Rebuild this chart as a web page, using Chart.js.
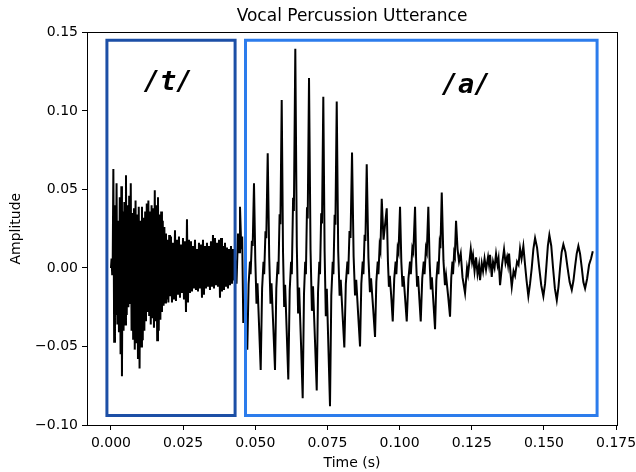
<!DOCTYPE html>
<html>
<head>
<meta charset="utf-8">
<title>Vocal Percussion Utterance</title>
<script src="https://cdn.jsdelivr.net/npm/chart.js@4.4.0/dist/chart.umd.min.js"></script>
<style>
  html, body { margin: 0; padding: 0; background: #fff; }
  canvas { display: block; }
</style>
</head>
<body>
<canvas id="chart" width="636" height="472"></canvas>
<script>
// [time (s), amplitude], /t/ burst first
const burstSamples = [
  [0.00000, 0.000], [0.00021, 0.006], [0.00042, -0.004], [0.00062, 0.008], [0.00083, 0.063], [0.00111, -0.047], [0.00139, 0.040], [0.00166, -0.030], [0.00194, 0.054], [0.00222, -0.036],
  [0.00249, 0.030], [0.00277, -0.041], [0.00305, 0.045], [0.00333, -0.055], [0.00360, 0.052], [0.00381, -0.069], [0.00409, 0.036], [0.00437, -0.040], [0.00464, 0.042], [0.00492, -0.036],
  [0.00520, 0.059], [0.00547, -0.030], [0.00575, 0.040], [0.00603, -0.025], [0.00631, 0.046], [0.00658, -0.023], [0.00686, 0.054], [0.00714, -0.040], [0.00742, 0.035], [0.00769, -0.045],
  [0.00797, 0.038], [0.00825, -0.052], [0.00852, 0.043], [0.00880, -0.048], [0.00908, 0.034], [0.00936, -0.058], [0.00963, 0.039], [0.00991, -0.064], [0.01019, 0.030], [0.01046, -0.050],
  [0.01074, 0.039], [0.01102, -0.046], [0.01130, 0.032], [0.01157, -0.040], [0.01185, 0.036], [0.01213, -0.034], [0.01240, 0.041], [0.01268, -0.028], [0.01296, 0.043], [0.01324, -0.030],
  [0.01351, 0.036], [0.01379, -0.036], [0.01407, 0.040], [0.01435, -0.032], [0.01462, 0.038], [0.01490, -0.038], [0.01518, 0.0495], [0.01545, -0.034], [0.01573, 0.040], [0.01601, -0.046],
  [0.01629, 0.045], [0.01656, -0.040], [0.01684, 0.034], [0.01712, -0.033], [0.01739, 0.036], [0.01767, -0.028], [0.01795, 0.030], [0.01823, -0.024], [0.01850, 0.026], [0.01878, -0.022],
  [0.01906, 0.022], [0.01933, -0.020], [0.01961, 0.018], [0.01989, -0.022], [0.02017, 0.021], [0.02044, -0.018], [0.02079, 0.020], [0.02114, -0.022], [0.02148, 0.016], [0.02183, -0.020],
  [0.02218, 0.024], [0.02252, -0.021], [0.02287, 0.018], [0.02322, -0.017], [0.02356, 0.020], [0.02391, -0.019], [0.02426, 0.015], [0.02460, -0.016], [0.02495, 0.019], [0.02529, -0.020],
  [0.02564, 0.017], [0.02599, -0.028], [0.02633, 0.031], [0.02668, -0.022], [0.02703, 0.018], [0.02737, -0.016], [0.02772, 0.017], [0.02807, -0.015], [0.02841, 0.014], [0.02876, -0.013],
  [0.02911, 0.018], [0.02945, -0.014], [0.02980, 0.012], [0.03015, -0.015], [0.03049, 0.016], [0.03084, -0.013], [0.03119, 0.015], [0.03153, -0.019], [0.03188, 0.018], [0.03222, -0.017],
  [0.03257, 0.014], [0.03292, -0.013], [0.03326, 0.016], [0.03361, -0.012], [0.03396, 0.014], [0.03430, -0.014], [0.03465, 0.017], [0.03500, -0.012], [0.03534, 0.021], [0.03569, -0.013],
  [0.03604, 0.019], [0.03638, -0.011], [0.03673, 0.016], [0.03708, -0.012], [0.03742, 0.018], [0.03777, -0.019], [0.03812, 0.019], [0.03846, -0.015], [0.03881, 0.014], [0.03915, -0.014],
  [0.03950, 0.016], [0.03985, -0.012], [0.04019, 0.013], [0.04054, -0.013], [0.04089, 0.012], [0.04123, -0.011], [0.04158, 0.014], [0.04193, -0.010], [0.04227, 0.012], [0.04262, -0.008]
];

// /a/ vowel, roughly one glottal cycle per row
const vowelSamples = [
  [0.04297, 0.006], [0.04349, -0.010], [0.04401, 0.022], [0.04442, 0.010], [0.04470, 0.039], [0.04515, 0.012], [0.04546, 0.020], [0.04584, -0.035], [0.04626, -0.020], [0.04660, -0.036], [0.04723, -0.052],
  [0.04768, -0.0104], [0.04816, 0.004], [0.04837, -0.004], [0.04882, 0.0173], [0.04910, 0.0140], [0.04955, 0.054], [0.05000, 0.0054], [0.05042, -0.0228], [0.05076, -0.0098], [0.05135, -0.039], [0.05187, -0.065],
  [0.05236, -0.013], [0.05284, 0.004], [0.05308, -0.004], [0.05353, 0.0234], [0.05381, 0.019], [0.05430, 0.073], [0.05482, 0.0073], [0.05527, -0.0228], [0.05561, -0.0098], [0.05627, -0.039], [0.05683, -0.065],
  [0.05728, -0.013], [0.05776, 0.004], [0.05800, -0.004], [0.05842, 0.0342], [0.05870, 0.0278], [0.05915, 0.107], [0.05960, 0.0107], [0.06001, -0.0249], [0.06033, -0.0107], [0.06092, -0.0426], [0.06143, -0.071],
  [0.06192, -0.0142], [0.06240, 0.004], [0.06265, -0.004], [0.06310, 0.0447], [0.06337, 0.0363], [0.06386, 0.1396], [0.06438, 0.014], [0.06483, -0.029], [0.06518, -0.0125], [0.06587, -0.050], [0.06642, -0.083],
  [0.06687, -0.0166], [0.06729, 0.004], [0.06753, -0.004], [0.06791, 0.0387], [0.06816, 0.0315], [0.06861, 0.121], [0.06913, 0.0121], [0.06961, -0.0273], [0.06999, -0.0117], [0.07069, -0.0468], [0.07128, -0.078],
  [0.07173, -0.0156], [0.07218, 0.004], [0.07242, -0.004], [0.07283, 0.0349], [0.07311, 0.0283], [0.07356, 0.109], [0.07401, 0.0109], [0.07443, -0.0308], [0.07477, -0.0132], [0.07536, -0.0528], [0.07588, -0.088],
  [0.07633, -0.0176], [0.07682, 0.004], [0.07706, -0.004], [0.07748, 0.0339], [0.07775, 0.0276], [0.07821, 0.106], [0.07872, 0.0106], [0.07921, -0.0177], [0.07959, -0.0076], [0.08025, -0.0304], [0.08084, -0.0506],
  [0.08136, -0.0101], [0.08191, 0.004], [0.08219, -0.004], [0.08264, 0.0235], [0.08299, 0.0191], [0.08351, 0.0735], [0.08406, 0.0074], [0.08455, -0.0175], [0.08496, -0.0075], [0.08565, -0.030], [0.08628, -0.050],
  [0.08673, -0.010], [0.08721, 0.004], [0.08746, -0.004], [0.08787, 0.0211], [0.08815, 0.0172], [0.08860, 0.066], [0.08919, 0.0066], [0.08971, -0.0154], [0.09009, -0.0066], [0.09085, -0.0264], [0.09148, -0.044],
  [0.09193, -0.0088], [0.09241, 0.004], [0.09265, -0.004], [0.09307, 0.0141], [0.09335, 0.0114], [0.09380, 0.044], [0.09442, 0.018], [0.09553, 0.038],
  [0.09595, 0.004], [0.09629, -0.012], [0.09660, -0.005], [0.09716, -0.020], [0.09761, -0.034],
  [0.09813, -0.0068], [0.09861, 0.004], [0.09886, -0.004], [0.09931, 0.0125], [0.09962, 0.0101], [0.10014, 0.039], [0.10059, 0.0039], [0.10100, -0.0119], [0.10135, -0.0051], [0.10194, -0.0204], [0.10246, -0.034],
  [0.10305, -0.0068], [0.10360, 0.004], [0.10388, -0.004], [0.10440, 0.0125], [0.10475, 0.0101], [0.10534, 0.039], [0.10572, 0.0039], [0.10606, -0.0119], [0.10638, -0.0051], [0.10686, -0.0204], [0.10731, -0.034],
  [0.10783, -0.0068], [0.10835, 0.004], [0.10863, -0.004], [0.10911, 0.0125], [0.10942, 0.0101], [0.10994, 0.039], [0.11039, 0.0039], [0.11081, -0.0137], [0.11116, -0.0059], [0.11175, -0.0234], [0.11227, -0.039],
  [0.11272, -0.0078], [0.11320, 0.004], [0.11344, -0.004], [0.11386, 0.0154], [0.11414, 0.0125], [0.11459, 0.048], [0.11518, 0.0048], [0.11570, -0.0109], [0.11608, -0.0047], [0.11684, -0.0186], [0.11746, -0.031],
  [0.11788, -0.0062], [0.11830, 0.004], [0.11850, -0.004], [0.11888, 0.0096], [0.11913, 0.0078], [0.11954, 0.030], [0.12006, 0.012], [0.12058, 0.004], [0.12117, 0.0092], [0.12179, -0.006], [0.12266, -0.016],
  [0.12335, 0.000], [0.12370, -0.004], [0.12464, 0.012], [0.12509, 0.004], [0.12543, 0.008], [0.12595, -0.002], [0.12647, 0.0067], [0.12699, -0.004], [0.12751, 0.002], [0.12786, -0.0078],
  [0.12845, 0.003], [0.12890, -0.002], [0.12942, 0.006], [0.12994, -0.001], [0.13063, 0.007], [0.13098, 0.002], [0.13132, 0.0083], [0.13191, -0.0057], [0.13236, 0.004], [0.13288, 0.000],
  [0.13340, 0.009], [0.13392, 0.002], [0.13427, 0.006], [0.13479, -0.011], [0.13548, 0.002], [0.13617, 0.0118], [0.13669, 0.003], [0.13721, 0.007], [0.13756, 0.002], [0.13791, 0.0092],
  [0.13843, -0.004], [0.13884, -0.012], [0.13947, -0.002], [0.13999, -0.005], [0.14068, 0.004], [0.14120, 0.002], [0.14172, 0.0124], [0.14224, 0.006], [0.14286, 0.0139], [0.14345, 0.002],
  [0.14397, -0.008], [0.14459, -0.018], [0.14518, -0.010], [0.14577, 0.000], [0.14633, 0.012], [0.14692, 0.019], [0.14761, 0.013], [0.14830, 0.001], [0.14906, -0.011], [0.14979, -0.018],
  [0.15038, -0.010], [0.15087, 0.002], [0.15135, 0.014], [0.15187, 0.021], [0.15253, 0.014], [0.15315, 0.000], [0.15378, -0.013], [0.15444, -0.0205], [0.15502, -0.012], [0.15558, 0.000],
  [0.15613, 0.010], [0.15672, 0.015], [0.15745, 0.010], [0.15818, 0.000], [0.15890, -0.009], [0.15963, -0.014], [0.16022, -0.008], [0.16078, 0.001], [0.16133, 0.009], [0.16192, 0.014],
  [0.16251, 0.009], [0.16310, 0.000], [0.16365, -0.009], [0.16424, -0.013], [0.16493, -0.007], [0.16563, 0.002], [0.16632, 0.006], [0.16691, 0.0107]
];

// segment boxes: [start time, end time, low amplitude, high amplitude]
const segmentNames = ["/t/", "/a/"];
const segmentBounds = [
  [-0.0014, 0.0430, -0.094, 0.145],
  [0.0466, 0.1684, -0.094, 0.145]
];
const segmentLabelAt = [[0.0198, 0.118], [0.1230, 0.116]];
const segmentColors = ["#1c4fa6", "#2c7cec"];

const xTicks = [0, 0.025, 0.05, 0.075, 0.1, 0.125, 0.15, 0.175];
const xTickLabels = ["0.000", "0.025", "0.050", "0.075", "0.100", "0.125", "0.150", "0.175"];
const yTicks = [-0.10, -0.05, 0, 0.05, 0.10, 0.15];
const yTickLabels = ["\u22120.10", "\u22120.05", "0.00", "0.05", "0.10", "0.15"];

Chart.defaults.font.family = "'DejaVu Sans', sans-serif";
Chart.defaults.color = "#000";

const waveData = burstSamples.concat(vowelSamples).map(s => ({ x: s[0], y: s[1] }));

// each box as a closed outline
const boxDatasets = segmentBounds.map((b, i) => ({
  data: [
    { x: b[0], y: b[2] }, { x: b[1], y: b[2] }, { x: b[1], y: b[3] },
    { x: b[0], y: b[3] }, { x: b[0], y: b[2] }
  ],
  borderColor: segmentColors[i],
  borderWidth: 3,
  borderCapStyle: "square",
  borderJoinStyle: "miter",
  pointRadius: 0,
  tension: 0,
  fill: false,
  order: 1
}));

// frame round the axes and the phoneme labels
const extras = {
  id: "extras",
  afterDatasetsDraw(chart) {
    const { ctx, chartArea: a, scales: { x, y } } = chart;
    ctx.save();
    ctx.fillStyle = "#000";
    ctx.font = "italic bold 27px 'DejaVu Sans Mono'";
    ctx.textAlign = "center";
    ctx.textBaseline = "middle";
    segmentNames.forEach((n, i) => {
      ctx.fillText(n, x.getPixelForValue(segmentLabelAt[i][0]), y.getPixelForValue(segmentLabelAt[i][1]));
    });
    ctx.strokeStyle = "#000";
    ctx.lineWidth = 1;
    const l = Math.round(a.left) + 0.5, t = Math.round(a.top) + 0.5;
    ctx.strokeRect(l, t, Math.round(a.right) - Math.round(a.left), Math.round(a.bottom) - Math.round(a.top));
    ctx.restore();
  }
};

const ctx = document.getElementById("chart").getContext("2d");
new Chart(ctx, {
  type: "line",
  data: {
    datasets: boxDatasets.concat([{
      data: waveData,
      borderColor: "#000",
      borderWidth: 2,
      pointRadius: 0,
      tension: 0,
      fill: false,
      order: 2
    }])
  },
  options: {
    responsive: false,
    animation: false,
    events: [],
    layout: { padding: { left: 0, right: 19, top: 0, bottom: 0 } },
    plugins: {
      legend: { display: false },
      tooltip: { enabled: false },
      title: {
        display: true,
        text: "Vocal Percussion Utterance",
        fullSize: false,
        color: "#000",
        font: { size: 17, weight: "normal" },
        padding: { top: 6, bottom: 6 }
      }
    },
    scales: {
      x: {
        type: "linear",
        min: -0.0083,
        max: 0.1753,
        afterBuildTicks: s => { s.ticks = xTicks.map(v => ({ value: v })); },
        afterFit: s => { s.height = 47; s.paddingLeft = 0; s.paddingRight = 0; },
        ticks: {
          font: { size: 14 },
          padding: 5,
          maxRotation: 0,
          autoSkip: false,
          callback: (v, i) => xTickLabels[i]
        },
        grid: { drawOnChartArea: false, tickLength: 5, color: "#000", lineWidth: 1 },
        border: { display: false },
        title: { display: true, text: "Time (s)", font: { size: 14 }, padding: { top: 0, bottom: 0 } }
      },
      y: {
        min: -0.10,
        max: 0.15,
        afterBuildTicks: s => { s.ticks = yTicks.map(v => ({ value: v })); },
        afterFit: s => { s.width = 87; s.paddingTop = 0; s.paddingBottom = 0; },
        ticks: {
          font: { size: 14 },
          padding: 4,
          autoSkip: false,
          callback: (v, i) => yTickLabels[i]
        },
        grid: { drawOnChartArea: false, tickLength: 5, color: "#000", lineWidth: 1 },
        border: { display: false },
        title: { display: true, text: "Amplitude", font: { size: 14 }, padding: { top: 8, bottom: 0 } }
      }
    }
  },
  plugins: [extras]
});
</script>
</body>
</html>
